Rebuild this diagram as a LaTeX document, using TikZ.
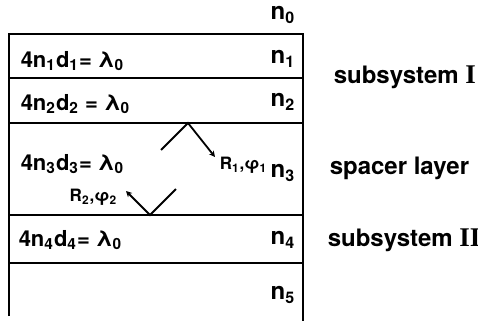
\documentclass[tikz,border=0pt]{standalone}
\usepackage{fontspec}
\setmainfont{TeX Gyre Heros}
\newfontfamily\romfont{Liberation Serif}
\usetikzlibrary{arrows.meta}
\begin{document}
\begin{tikzpicture}[x=0.5pt, y=-0.5pt, line width=1.1pt,
    idx/.style={font=\bfseries\fontsize{12}{14}\selectfont},
    eq/.style={anchor=west, font=\bfseries\fontsize{11}{13}\selectfont},
    part/.style={anchor=west, font=\bfseries\fontsize{12}{14}\selectfont},
    coef/.style={font=\bfseries\fontsize{8.5}{10}\selectfont},
    ray/.style={line width=0.9pt, -{Stealth[length=3pt,width=3pt]}}]
\useasboundingbox (0,0) rectangle (478,321);
% layer stack
\draw (9,316) -- (9,34) -- (303,34) -- (303,321);
\foreach \y in {78,123,215,263}
    \draw (9,\y) -- (303,\y);
% refractive indices
\node[idx] (n0) at (283,15) {n\textsubscript{0}};
\node[idx] (n1) at (283,59) {n\textsubscript{1}};
\node[idx] (n2) at (283,102) {n\textsubscript{2}};
\node[idx] (n3) at (283,173) {n\textsubscript{3}};
\node[idx] (n4) at (283,240) {n\textsubscript{4}};
\node[idx] (n5) at (283,295) {n\textsubscript{5}};
% quarter-wave conditions
\node[eq] (q1) at (13,61) {4n\textsubscript{1}d\textsubscript{1}= λ\textsubscript{0}};
\node[eq] (q2) at (13,104) {4n\textsubscript{2}d\textsubscript{2} = λ\textsubscript{0}};
\node[eq] (q3) at (13,164) {4n\textsubscript{3}d\textsubscript{3}= λ\textsubscript{0}};
\node[eq] (q4) at (11,240) {4n\textsubscript{4}d\textsubscript{4}= λ\textsubscript{0}};
% reflected rays
\coordinate (a1) at (161,150);
\coordinate (t1) at (188,123);
\coordinate (b1) at (215,157);
\coordinate (a2) at (176,189);
\coordinate (t2) at (150,215);
\coordinate (b2) at (126,191);
\draw[ray] (a1) -- (t1) -- (b1);
\draw[ray] (a2) -- (t2) -- (b2);
\node[coef, anchor=west] (r1) at (212,165) {R\textsubscript{1},φ\textsubscript{1}};
\node[coef, anchor=east] (r2) at (125,197) {R\textsubscript{2},φ\textsubscript{2}};
% parts of the system
\node[part] (s1) at (326,77) {subsystem {\romfont\fontsize{13.5}{14}\selectfont I}};
\node[part] (sp) at (322,168) {spacer layer};
\node[part] (s2) at (320,240) {subsystem {\romfont\fontsize{13.5}{14}\selectfont II}};
\end{tikzpicture}
\end{document}
